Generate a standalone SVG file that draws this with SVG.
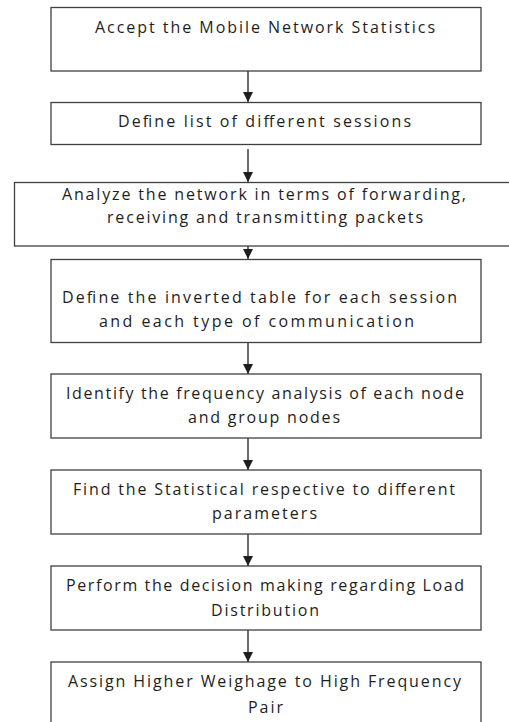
<svg xmlns="http://www.w3.org/2000/svg" width="509" height="722" viewBox="0 0 509 722">
<defs>
<style>
.box{fill:#fff;stroke:#404040;stroke-width:1.3}
.t{font-family:"Open Sans","Liberation Sans",sans-serif;font-size:16px;fill:#1e1e1e;text-anchor:middle}
.c{stroke:#1e1e1e;stroke-width:1.3;fill:none;marker-end:url(#ah)}
</style>
<marker id="ah" markerUnits="userSpaceOnUse" markerWidth="10" markerHeight="10" refX="10" refY="5" orient="auto">
<path d="M0,0 L10,5 L0,10 Z" fill="#1e1e1e"/>
</marker>
</defs>
<rect width="509" height="722" fill="#fff"/>
<g id="connectors">
<line class="c" x1="248" y1="71" x2="248" y2="102"/>
<line class="c" x1="248" y1="149" x2="248" y2="182"/>
<line class="c" x1="248" y1="246" x2="248" y2="259"/>
<line class="c" x1="248" y1="342" x2="248" y2="374"/>
<line class="c" x1="248" y1="438" x2="248" y2="470"/>
<line class="c" x1="248" y1="534" x2="248" y2="566"/>
<line class="c" x1="248" y1="630" x2="248" y2="662"/>
</g>
<g id="n1">
<rect class="box" x="51" y="7.5" width="430" height="63.5"/>
<text class="t" x="265" y="33" textLength="340" lengthAdjust="spacing">Accept the Mobile Network Statistics</text>
</g>
<g id="n2">
<rect class="box" x="51" y="102.5" width="430" height="42"/>
<text class="t" x="264.5" y="127" textLength="293" lengthAdjust="spacing">Define list of  different sessions</text>
</g>
<g id="n3">
<rect class="box" x="14.5" y="182.5" width="500" height="63.5"/>
<text class="t" x="264" y="200" textLength="404" lengthAdjust="spacing">Analyze the network in terms of forwarding,</text>
<text class="t" x="265" y="223" textLength="316" lengthAdjust="spacing">receiving and transmitting packets</text>
</g>
<g id="n4">
<rect class="box" x="51" y="259.5" width="430" height="83"/>
<text class="t" x="259.5" y="302.5" textLength="395" lengthAdjust="spacing">Define the inverted table for each session</text>
<text class="t" x="256.5" y="326.5" textLength="315" lengthAdjust="spacing">and each type of communication</text>
</g>
<g id="n5">
<rect class="box" x="51" y="374" width="430" height="64"/>
<text class="t" x="265" y="399" textLength="398" lengthAdjust="spacing">Identify the frequency analysis of each node</text>
<text class="t" x="264" y="423" textLength="152" lengthAdjust="spacing">and group nodes</text>
</g>
<g id="n6">
<rect class="box" x="51" y="470" width="430" height="64"/>
<text class="t" x="264" y="495" textLength="382" lengthAdjust="spacing">Find the Statistical respective to different</text>
<text class="t" x="264.5" y="519" textLength="105" lengthAdjust="spacing">parameters</text>
</g>
<g id="n7">
<rect class="box" x="51" y="566" width="430" height="64"/>
<text class="t" x="265" y="590.5" textLength="398" lengthAdjust="spacing">Perform the decision making regarding Load</text>
<text class="t" x="265" y="616" textLength="108" lengthAdjust="spacing">Distribution</text>
</g>
<g id="n8">
<rect class="box" x="51" y="662" width="430" height="80"/>
<text class="t" x="264.5" y="686.5" textLength="393" lengthAdjust="spacing">Assign Higher Weighage to High Frequency</text>
<text class="t" x="265.5" y="713" textLength="35" lengthAdjust="spacing">Pair</text>
</g>
</svg>
